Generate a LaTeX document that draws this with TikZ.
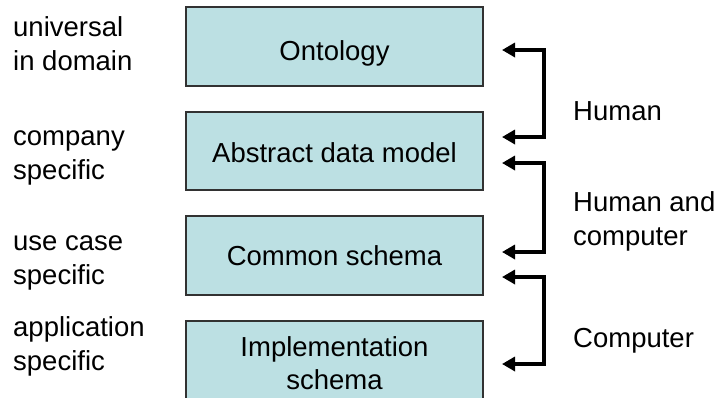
\documentclass[tikz,border=0pt]{standalone}
\usepackage{fontspec}
\setmainfont{Liberation Sans}
\usetikzlibrary{arrows.meta}
\definecolor{boxfill}{RGB}{188,224,227}
\definecolor{boxline}{RGB}{50,50,50}
\newcommand{\diagfont}{\fontsize{27.5}{34}\selectfont}
\begin{document}
\begin{tikzpicture}[x=1pt,y=-1pt,
  layer/.style={draw=boxline, fill=boxfill, line width=1.5pt},
  boxtext/.style={font=\diagfont, inner sep=0pt, anchor=base},
  sidetext/.style={font=\diagfont, inner sep=0pt, align=left, anchor=north west},
  link/.style={line width=4pt, {Triangle[length=13pt,width=14pt]}-{Triangle[length=13pt,width=14pt]}}
]
\useasboundingbox (0,0) rectangle (718,397);
\clip (0,0) rectangle (718,397);

% layer boxes
\draw[layer] (186,7)   rectangle (483,86)  coordinate (b1);
\draw[layer] (186,112) rectangle (483,190) coordinate (b2);
\draw[layer] (186,216) rectangle (483,295) coordinate (b3);
\draw[layer] (186,321) rectangle (483,430) coordinate (b4);

% box titles
\node[boxtext] (t1) at (334.5,60)  {Ontology};
\node[boxtext] (t2) at (334.5,162) {Abstract data model};
\node[boxtext] (t3) at (334.5,265) {Common schema};
\node[font=\fontsize{27.5}{33}\selectfont, inner sep=0pt, align=center, anchor=north] (t4) at (334.5,332.9)
  {\strut Implementation\\schema};

% scope labels on the left
\node[sidetext] (s1) at (13,12.7)  {\strut universal\\in domain};
\node[sidetext] (s2) at (13,121.2) {\strut company\\specific};
\node[sidetext] (s3) at (13,226.2) {\strut use case\\specific};
\node[sidetext] (s4) at (13,312.2) {\strut application\\specific};

% arrow tips beside the boxes
\coordinate (a1) at (502,50);
\coordinate (a2) at (502,137);
\coordinate (a3) at (502,163);
\coordinate (a4) at (502,252);
\coordinate (a5) at (502,277);
\coordinate (a6) at (502,364);

% mapping brackets
\draw[link] (a1) -- ++(42,0) |- (a2);
\draw[link] (a3) -- ++(42,0) |- (a4);
\draw[link] (a5) -- ++(42,0) |- (a6);

% who performs each mapping
\node[boxtext, anchor=base west] (h1) at (573,120) {Human};
\node[sidetext] (h2) at (573,187.2) {\strut Human and\\computer};
\node[boxtext, anchor=base west] (h3) at (573,347) {Computer};
\end{tikzpicture}
\end{document}
